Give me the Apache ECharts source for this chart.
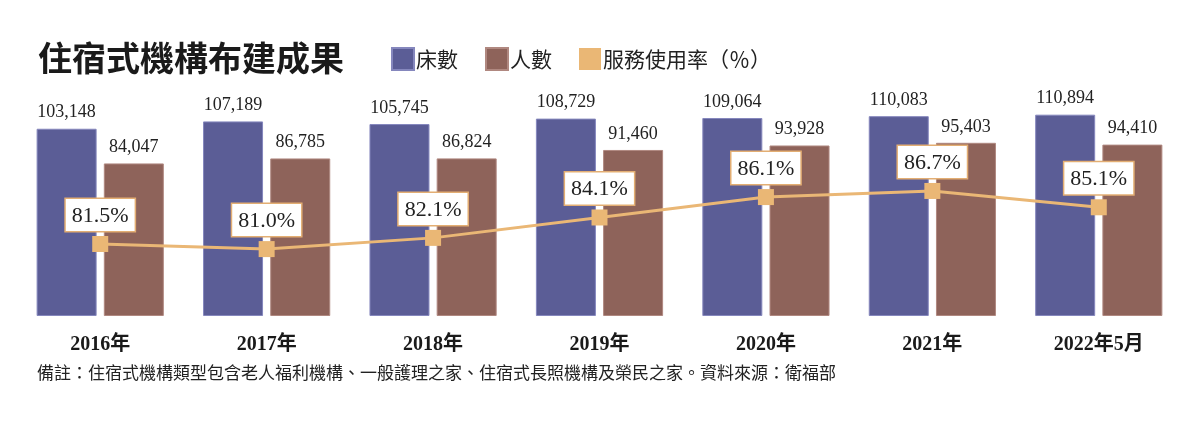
<!DOCTYPE html>
<html>
<head>
<meta charset="utf-8">
<script src="https://cdn.jsdelivr.net/npm/echarts@6/dist/echarts.min.js"></script>
<style>
  html, body { margin: 0; padding: 0; background: #fff; }
  #main { width: 1200px; height: 423px; }
</style>
</head>
<body>
<div id="main"></div>
<script>
const years = ['2016年', '2017年', '2018年', '2019年', '2020年', '2021年', '2022年5月'];
const beds = [103148, 107189, 105745, 108729, 109064, 110083, 110894];
const people = [84047, 86785, 86824, 91460, 93928, 95403, 94410];
const usageRate = [81.5, 81.0, 82.1, 84.1, 86.1, 86.7, 85.1];

const serif = '"Liberation Serif", "DejaVu Serif", "Noto Sans CJK TC", serif';
const cjk = '"Noto Sans CJK TC", sans-serif';

const chart = echarts.init(document.getElementById('main'));

const barLabel = {
    show: true,
    position: 'top',
    distance: 7,
    fontFamily: serif,
    fontSize: 18,
    color: '#222',
    formatter: p => p.value.toLocaleString('en-US')
};

chart.setOption({
    animation: false,
    backgroundColor: '#fff',
    title: {
        text: '住宿式機構布建成果',
        left: 33,
        top: 36,
        textStyle: { fontFamily: cjk, fontSize: 34, fontWeight: 'bold', color: '#1a1a1a' }
    },
    legend: {
        left: 386,
        top: 42,
        itemWidth: 22,
        itemHeight: 22,
        itemGap: 27,
        icon: 'rect',
        textStyle: { fontFamily: cjk, fontSize: 21, color: '#222', padding: [0, 0, 0, -3] },
        data: ['床數', '人數', '服務使用率（％）']
    },
    grid: { left: 17, right: 18, top: 80, bottom: 107 },
    xAxis: {
        type: 'category',
        data: years,
        axisLine: { show: false },
        axisTick: { show: false },
        axisLabel: {
            margin: 19,
            fontFamily: serif,
            fontSize: 20,
            fontWeight: 'bold',
            color: '#1a1a1a'
        }
    },
    yAxis: [
        { type: 'value', min: 0, max: 130000, show: false, splitLine: { show: false } },
        { type: 'value', min: 74.44, max: 97.58, show: false, splitLine: { show: false } }
    ],
    series: [
        {
            name: '床數',
            type: 'bar',
            data: beds,
            barWidth: 60,
            barGap: '12%',
            itemStyle: { color: '#5B5D96', borderColor: '#8587bd', borderWidth: 1 },
            label: barLabel
        },
        {
            name: '人數',
            type: 'bar',
            data: people,
            barWidth: 60,
            itemStyle: { color: '#8E635A', borderColor: '#b08880', borderWidth: 1 },
            label: barLabel
        },
        {
            name: '服務使用率（％）',
            type: 'line',
            yAxisIndex: 1,
            data: usageRate,
            symbol: 'rect',
            symbolSize: 16,
            z: 5,
            lineStyle: { color: '#EAB775', width: 3 },
            itemStyle: { color: '#EAB775' },
            label: {
                show: true,
                position: 'top',
                distance: 5,
                formatter: p => p.value.toFixed(1) + '%',
                fontFamily: serif,
                fontSize: 22,
                color: '#222',
                backgroundColor: '#fff',
                borderColor: '#E3AE73',
                borderWidth: 1.5,
                padding: [6, 6, 4, 6]
            }
        }
    ],
    graphic: [
        {
            type: 'text',
            left: 37,
            top: 364,
            style: {
                text: '備註：住宿式機構類型包含老人福利機構、一般護理之家、住宿式長照機構及榮民之家。資料來源：衛福部',
                font: '17px "Noto Sans CJK TC", sans-serif',
                fill: '#222'
            }
        }
    ]
});
</script>
</body>
</html>
